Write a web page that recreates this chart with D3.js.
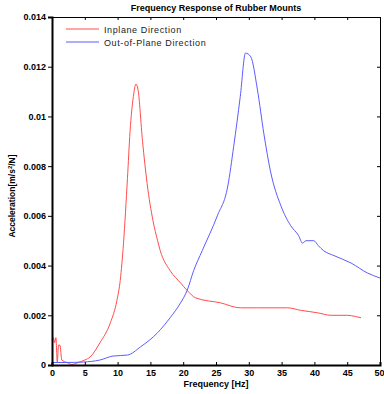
<!DOCTYPE html>
<html>
<head>
<meta charset="utf-8">
<script src="https://cdn.jsdelivr.net/npm/d3@7"></script>
<style>
  body { margin: 0; background: #fff; }
  text { font-family: "Liberation Sans", Arial, sans-serif; }
</style>
</head>
<body>
<div id="chart"></div>
<script>
// Inplane direction (red)
const inplaneFreq = [0, 0.2, 0.4, 0.6, 0.8, 1.0, 1.2, 1.5, 2.3, 3.0, 4.0, 5.0, 5.8, 7.3, 8.9, 9.9, 10.4, 10.9, 11.5, 11.9, 12.4, 12.8, 13.1, 13.8, 14.5, 15.4, 16.1, 16.5, 18.0, 19.6, 20.6, 21.9, 25.7, 28.7, 31.3, 35.9, 37.9, 40.5, 42.5, 45.0, 46.3, 47.1];
const inplaneAcc = [0.0010, 0.0011, 0.0009, 0.0011, 0.0001, 0.0008, 0.0008, 0.0002, 0.0001, 0.00002, 0.0001, 0.0002, 0.00032, 0.00089, 0.0017, 0.0026, 0.0034, 0.0049, 0.0075, 0.0094, 0.0108, 0.0113, 0.0111, 0.0090, 0.0073, 0.0058, 0.0050, 0.0046, 0.0038, 0.0033, 0.0030, 0.0027, 0.0025, 0.0023, 0.0023, 0.0023, 0.0022, 0.0021, 0.0020, 0.0020, 0.00195, 0.0019];

// Out-of-plane direction (blue)
const outFreq = [0.2, 2.0, 4.8, 7.3, 9.3, 11.5, 13.5, 16.1, 18.0, 19.6, 20.6, 21.6, 22.9, 25.2, 26.8, 27.7, 28.7, 29.5, 30.3, 31.3, 32.3, 33.3, 34.9, 36.4, 37.6, 38.2, 38.7, 39.9, 40.6, 41.4, 43.0, 45.6, 48.1, 50.0];
const outAcc = [0.0001, 0.0001, 0.00012, 0.0002, 0.00036, 0.0004, 0.00073, 0.0013, 0.0019, 0.0025, 0.0030, 0.0038, 0.0046, 0.0060, 0.0072, 0.0088, 0.0108, 0.01255, 0.0124, 0.0111, 0.0093, 0.0078, 0.0064, 0.0056, 0.0052, 0.0049, 0.0050, 0.0050, 0.0048, 0.0046, 0.0044, 0.0041, 0.0037, 0.0035];

const xTicks = [0, 5, 10, 15, 20, 25, 30, 35, 40, 45, 50];
const yTicks = [0, 0.002, 0.004, 0.006, 0.008, 0.01, 0.012, 0.014];
const seriesNames = ["Inplane Direction", "Out-of-Plane Direction"];
const seriesColors = ["#ff4d4d", "#5c5cff"];

const width = 384, height = 394;
const margin = {left: 52, right: 4, top: 17, bottom: 29};
const w = width - margin.left - margin.right;
const h = height - margin.top - margin.bottom;

const svg = d3.select("#chart").append("svg")
  .attr("width", width)
  .attr("height", height);

const x = d3.scaleLinear().domain([0, 50]).range([0, w]);
const y = d3.scaleLinear().domain([0, 0.014]).range([h, 0]);

const g = svg.append("g")
  .attr("transform", `translate(${margin.left},${margin.top})`);

// data lines
const line = d3.line().x(d => x(d[0])).y(d => y(d[1])).curve(d3.curveMonotoneX);
const series = [
  d3.zip(inplaneFreq, inplaneAcc),
  d3.zip(outFreq, outAcc)
];
series.forEach((s, i) => {
  g.append("path")
    .datum(s)
    .attr("fill", "none")
    .attr("stroke", seriesColors[i])
    .attr("stroke-width", 1)
    .attr("d", line);
});

// axes
const fmt = d => d === 0 ? "0" : d3.format("~g")(d);
const bottom = g.append("g")
  .attr("transform", `translate(0,${h})`)
  .call(d3.axisBottom(x).tickValues(xTicks).tickSize(-3).tickPadding(5));
const left = g.append("g")
  .call(d3.axisLeft(y).tickValues(yTicks).tickFormat(fmt).tickSize(4).tickPadding(2));
g.append("g")
  .call(d3.axisTop(x).tickValues(xTicks).tickSize(-3).tickFormat(""));
g.append("g")
  .attr("transform", `translate(${w},0)`)
  .call(d3.axisRight(y).tickValues(yTicks).tickSize(-3).tickFormat(""));

g.selectAll(".domain").attr("stroke", "#000");
g.selectAll(".tick line").attr("stroke", "#000");
[bottom, left].forEach(a => a.selectAll("text")
  .attr("font-size", 9)
  .attr("font-weight", "bold")
  .attr("fill", "#000"));
// keep the last x label inside the window
bottom.selectAll("text").filter(d => d === 50).attr("text-anchor", "end").attr("dx", 4);
left.select(".domain").attr("stroke-width", 2);
bottom.select(".domain").attr("stroke-width", 2);

// title and labels
svg.append("text")
  .attr("x", margin.left + w / 2)
  .attr("y", 11)
  .attr("text-anchor", "middle")
  .attr("font-size", 9)
  .attr("font-weight", "bold")
  .text("Frequency Response of Rubber Mounts");

svg.append("text")
  .attr("x", margin.left + w / 2)
  .attr("y", height - 7)
  .attr("text-anchor", "middle")
  .attr("font-size", 9)
  .attr("font-weight", "bold")
  .text("Frequency [Hz]");

const yl = svg.append("text")
  .attr("transform", `translate(15,${margin.top + h / 2 + 5}) rotate(-90)`)
  .attr("text-anchor", "middle")
  .attr("font-size", 8.5)
  .attr("font-weight", "bold");
yl.append("tspan").text("Acceleration[m/s");
yl.append("tspan").attr("dy", -3).attr("font-size", 6).text("2");
yl.append("tspan").attr("dy", 3).text("/N]");

// legend
const legend = g.append("g").attr("transform", "translate(14,12)");
seriesNames.forEach((name, i) => {
  const row = legend.append("g").attr("transform", `translate(0,${i * 13})`);
  row.append("line")
    .attr("x1", 0).attr("x2", 33)
    .attr("stroke", seriesColors[i])
    .attr("stroke-width", 1);
  row.append("text")
    .attr("x", 38).attr("y", 3.5)
    .attr("font-size", 9)
    .attr("letter-spacing", 0.6)
    .attr("fill", "#222")
    .text(name);
});
</script>
</body>
</html>
